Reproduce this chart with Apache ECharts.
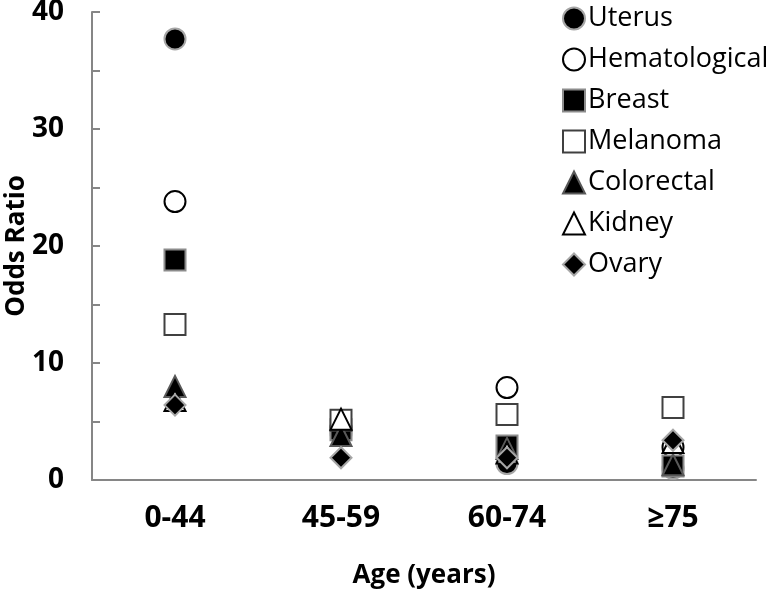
<!DOCTYPE html>
<html><head><meta charset="utf-8">
<script src="https://cdn.jsdelivr.net/npm/echarts@6/dist/echarts.min.js"></script>
<style>html,body{margin:0;padding:0;background:#fff}#c{width:772px;height:596px}</style>
</head><body><div id="c"></div>
<script>
var categories = ['0-44', '45-59', '60-74', '≥75'];
var uterus = [37.7, 4.0, 1.4, 1.0];
var hematological = [23.8, 4.5, 7.9, 2.8];
var breast = [18.8, 4.3, 2.9, 1.2];
var melanoma = [13.3, 5.1, 5.6, 6.2];
var colorectal = [8.0, 3.8, 2.7, 1.3];
var kidney = [6.8, 5.2, 2.3, 3.2];
var ovary = [6.4, 1.9, 1.9, 3.4];
var yTicks = [0, 10, 20, 30, 40];

var font = 'Open Sans';
function s(name, data, symbol, fill, border, bw) {
  return {
    name: name, type: 'scatter', data: data, symbol: symbol, symbolSize: 21,
    itemStyle: { color: fill, borderColor: border, borderWidth: bw, opacity: 1 },
    emphasis: { disabled: true }
  };
}
var chart = echarts.init(document.getElementById('c'));
chart.setOption({
  animation: false,
  grid: { left: 92, right: 16, top: 12, bottom: 116, outerBoundsMode: 'none', containLabel: false },
  legend: {
    orient: 'vertical', left: 557, top: 0, itemGap: 14, itemWidth: 22, itemHeight: 22,
    textStyle: { fontFamily: font, fontSize: 27, color: '#000', padding: [0, 0, 0, -2] },
    data: ['Uterus', 'Hematological', 'Breast', 'Melanoma', 'Colorectal', 'Kidney', 'Ovary']
  },
  xAxis: {
    type: 'category', data: categories, boundaryGap: true,
    name: 'Age (years)', nameLocation: 'middle', nameGap: 83, nameMoveOverlap: false,
    nameTextStyle: { fontFamily: font, fontSize: 26, fontWeight: 'bold', color: '#000' },
    axisLine: { lineStyle: { color: '#868686', width: 2 } },
    axisTick: { show: false },
    axisLabel: { fontFamily: font, fontSize: 30, fontWeight: 'bold', color: '#000', margin: 23 }
  },
  yAxis: {
    type: 'value', min: yTicks[0], max: yTicks[yTicks.length - 1], interval: 10,
    name: 'Odds Ratio', nameLocation: 'middle', nameGap: 62, nameRotate: 90, nameMoveOverlap: false,
    nameTextStyle: { fontFamily: font, fontSize: 26, fontWeight: 'bold', color: '#000' },
    splitLine: { show: false },
    axisLine: { show: true, lineStyle: { color: '#868686', width: 2 } },
    axisTick: { show: true, inside: true, length: 8, lineStyle: { color: '#868686', width: 2 } },
    minorTick: { show: true, splitNumber: 2, length: 8, lineStyle: { color: '#868686', width: 2 } },
    axisLabel: { fontFamily: font, fontSize: 28, fontWeight: 'bold', color: '#000', margin: 28 }
  },
  series: [
    s('Uterus', uterus, 'circle', '#000', '#a6a6a6', 2),
    s('Hematological', hematological, 'circle', '#fff', '#000', 2),
    s('Breast', breast, 'rect', '#000', '#8c8c8c', 2),
    s('Melanoma', melanoma, 'rect', '#fff', '#404040', 2),
    s('Colorectal', colorectal, 'triangle', '#000', '#595959', 2),
    s('Kidney', kidney, 'triangle', '#fff', '#000', 2),
    s('Ovary', ovary, 'diamond', '#000', '#a6a6a6', 2)
  ]
});
</script></body></html>
